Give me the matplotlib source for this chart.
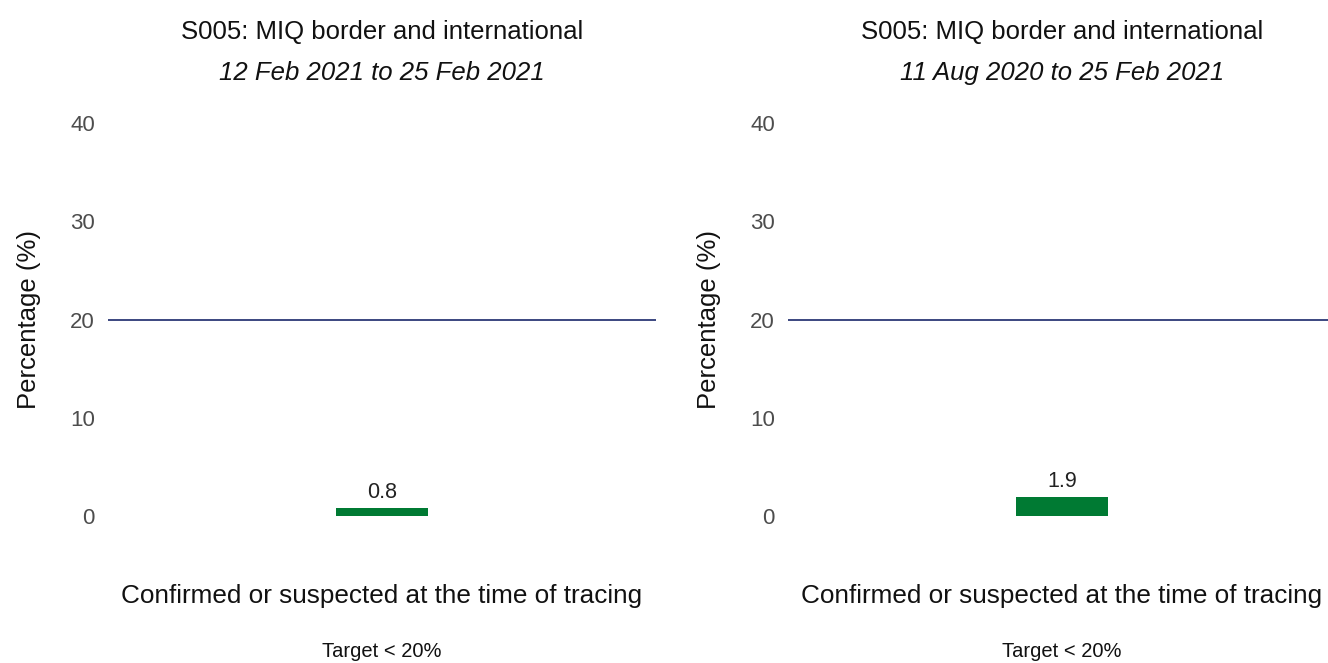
import matplotlib
matplotlib.use('Agg')
import matplotlib.pyplot as plt

plt.rcParams['font.family'] = ['Liberation Sans', 'DejaVu Sans']

# data
titles = ['S005: MIQ border and international', 'S005: MIQ border and international']
periods = ['12 Feb 2021 to 25 Feb 2021', '11 Aug 2020 to 25 Feb 2021']
category = 'Confirmed or suspected at the time of tracing'
values = [0.8, 1.9]
target = 20
yticks = [0, 10, 20, 30, 40]
footnote = 'Target < 20%'

W, H = 1328, 663
fig = plt.figure(figsize=(W / 100, H / 100), dpi=100)

lefts = [108, 788]
axw = 548
top_px, bot_px = 123, 516

for i in range(2):
    ax = fig.add_axes([lefts[i] / W, 1 - bot_px / H, axw / W, (bot_px - top_px) / H])
    ax.bar([0], [values[i]], width=0.5, color='#007A33')
    ax.axhline(target, color='#3B4680', lw=1.4)
    ax.text(0, values[i] + 0.5, '%.1f' % values[i], ha='center', va='bottom',
            fontsize=15.5, color='#222222')
    ax.set_xlim(-1.5, 1.5)
    ax.set_ylim(0, 40)
    ax.set_yticks(yticks)
    ax.tick_params(axis='y', length=0, pad=9.5, labelsize=16, labelcolor='#4d4d4d')
    ax.set_xticks([])
    for s in ax.spines.values():
        s.set_visible(False)
    ax.set_ylabel('Percentage (%)', fontsize=18.5, color='#111111', labelpad=21)
    cx = lefts[i] + axw / 2
    fig.text(cx / W, 1 - 32 / H, titles[i], ha='center', va='center', fontsize=18.5, color='#111111')
    fig.text(cx / W, 1 - 73 / H, periods[i], ha='center', va='center', fontsize=18.5,
             style='italic', color='#111111')
    fig.text(cx / W, 1 - 596 / H, category, ha='center', va='center', fontsize=18.8, color='#111111')
    fig.text(cx / W, 2 / H, footnote, ha='center', va='bottom', fontsize=14.5, color='#111111')

fig.savefig('out.png', dpi=100, facecolor='white')
